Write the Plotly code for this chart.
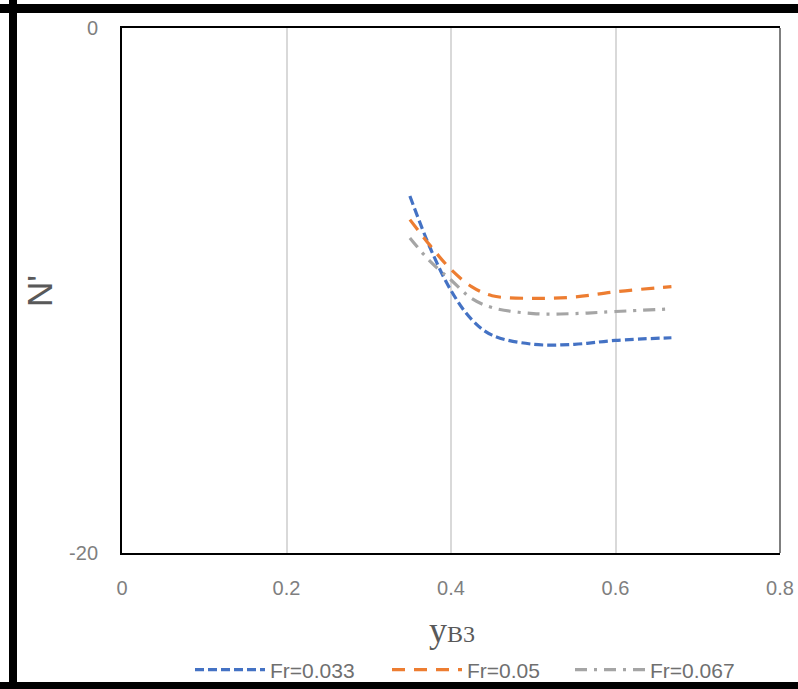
import plotly.graph_objects as go

x_vals = [0.35, 0.375, 0.40, 0.425, 0.45, 0.50, 0.55, 0.60, 0.668]
fr_033 = [-6.4, -8.4, -10.0, -11.1, -11.7, -12.05, -12.05, -11.9, -11.8]
fr_05 = [-7.3, -8.3, -9.2, -9.85, -10.2, -10.3, -10.25, -10.05, -9.85]
fr_067 = [-8.0, -8.9, -9.6, -10.3, -10.65, -10.88, -10.88, -10.8, -10.7]
names = ["Fr=0.033", "Fr=0.05", "Fr=0.067"]
colors = ["#4472C4", "#ED7D31", "#A5A5A5"]
dashes = ["9px,4px", "13px,9px", "12px,7px,3px,7px"]
x_ticks = [0, 0.2, 0.4, 0.6, 0.8]
x_tick_text = ["0", "0.2", "0.4", "0.6", "0.8"]
y_ticks = [0, -20]
y_tick_text = ["0", "-20"]

W, H = 798, 689
L, R, T, B = 122, 18, 28, 136
pw, ph = W - L - R, H - T - B

def px(xp):
    return (xp - L) / pw

def py(yp):
    return 1 - (yp - T) / ph

fig = go.Figure()
legend_ids = ["legend", "legend2", "legend3"]
for ys, n, c, d, lg in zip([fr_033, fr_05, fr_067], names, colors, dashes, legend_ids):
    fig.add_trace(go.Scatter(x=x_vals, y=ys, name=n, mode="lines", legend=lg,
                             line=dict(color=c, width=3.2, dash=d, shape="spline")))

sans = "Liberation Sans, Arial, sans-serif"
tickfont = dict(family=sans, size=20, color="#7f7f7f")
legfont = dict(family=sans, size=21, color="#6f6f6f")

def leg(xpage):
    return dict(orientation="h", x=px(xpage), xanchor="left", y=py(670), yanchor="middle",
                font=legfont, itemwidth=70, bgcolor="rgba(0,0,0,0)", borderwidth=0)

fig.update_layout(
    width=W, height=H,
    margin=dict(l=L, r=R, t=T, b=B, autoexpand=False),
    paper_bgcolor="white", plot_bgcolor="white",
    showlegend=True,
    legend=leg(190), legend2=leg(387), legend3=leg(570),
    xaxis=dict(range=[0, 0.8], tickvals=x_ticks, ticktext=x_tick_text, showgrid=True,
               gridcolor="#d9d9d9", gridwidth=1.5, zeroline=False,
               showline=True, linecolor="black", linewidth=2, mirror=True,
               ticks="", tickfont=tickfont, ticklabelstandoff=16),
    yaxis=dict(range=[-20, 0], tickvals=y_ticks, ticktext=y_tick_text, showgrid=False,
               zeroline=False, showline=True, linecolor="black", linewidth=2, mirror=False,
               ticks="", tickfont=tickfont, ticklabelstandoff=18),
)

# right frame line (grey)
fig.add_shape(type="line", xref="paper", yref="paper", x0=1, x1=1, y0=0, y1=1,
              line=dict(color="#7f7f7f", width=2))

# axis titles
fig.add_annotation(text="y<span style='font-size:24px'>B3</span>", xref="paper", yref="paper",
                   x=px(452), y=py(630), xanchor="center", yanchor="middle", showarrow=False,
                   font=dict(family="Liberation Serif, Times New Roman, serif", size=36, color="#595959"))
fig.add_annotation(text="N'", xref="paper", yref="paper", textangle=-90,
                   x=px(39), y=py(291), xanchor="center", yanchor="middle", showarrow=False,
                   font=dict(family=sans, size=35, color="#595959"))

# outer black frame of the image (right side cropped)
for x0, x1, y0, y1 in [(9, 17, 0, 689), (0, 810, 4, 13), (0, 810, 682, 700)]:
    fig.add_shape(type="rect", xref="paper", yref="paper",
                  x0=px(x0), x1=px(x1), y0=py(y1), y1=py(y0),
                  line=dict(width=0), fillcolor="black", layer="above")

fig.write_html("out.html", config={"displayModeBar": False},
               post_script="document.body.style.margin='0px';")
